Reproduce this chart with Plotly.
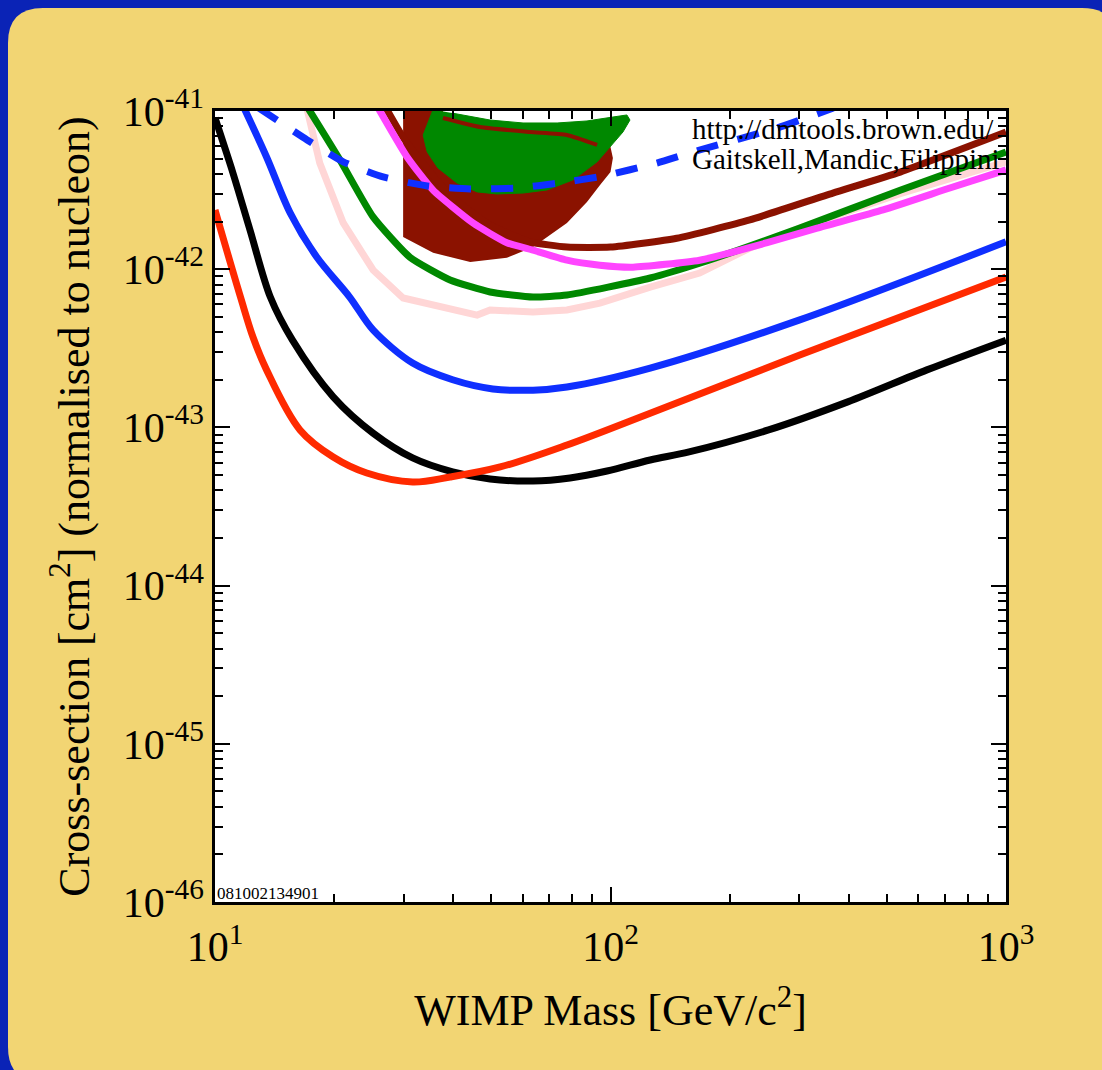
import plotly.graph_objects as go

# ---------------- data ----------------
mass_red = [10, 11.6, 12.5, 13.5, 16.4, 19.9, 24.2, 31.6, 39.3, 52.6, 77.6, 126, 301, 1000]
sig_red = [2.37e-42, 6.67e-43, 3.67e-43, 2.31e-43, 9.64e-44, 6.5e-44, 5.15e-44, 4.52e-44,
           4.86e-44, 5.62e-44, 7.74e-44, 1.23e-43, 2.87e-43, 8.93e-43]

mass_black = [10, 11.1, 12.26, 13.8, 15.7, 19.9, 25.1, 31.6, 39.9, 49.6, 63.7, 79, 98, 126,
              158, 251, 398, 631, 1000]
sig_black = [9.04e-42, 4.06e-42, 1.77e-42, 6.67e-43, 3.56e-43, 1.56e-43, 9.2e-44, 6.41e-44,
             5.23e-44, 4.72e-44, 4.58e-44, 4.79e-44, 5.3e-44, 6.22e-44, 7.0e-44, 9.64e-44,
             1.45e-43, 2.31e-43, 3.56e-43]

mass_blue = [11.75, 13.5, 15.5, 18.1, 21.9, 25.1, 31.6, 39.9, 50.4, 63.7, 77.6, 126, 301, 1000]
sig_blue = [1.09e-41, 5.12e-42, 2.26e-42, 1.19e-42, 6.67e-43, 4.13e-43, 2.55e-43, 2.0e-43,
            1.75e-43, 1.72e-43, 1.8e-43, 2.37e-43, 4.78e-43, 1.49e-42]

mass_pink = [17.0, 18.4, 21.1, 25.1, 29.9, 33, 39.9, 46, 49.6, 63.7, 77.6, 94, 126, 168, 225,
             301, 540, 1000]
sig_pink = [1.09e-41, 4.69e-42, 1.96e-42, 9.89e-43, 6.58e-43, 6.2e-43, 5.52e-43, 5.13e-43,
            5.52e-43, 5.37e-43, 5.52e-43, 6.1e-43, 7.7e-43, 9.46e-43, 1.36e-42, 1.82e-42,
            3.0e-42, 4.77e-42]

mass_green = [17.0, 20.7, 25.1, 31.1, 39.3, 49.6, 63.7, 77.6, 126, 168, 301, 540, 1000]
sig_green = [1.09e-41, 4.9e-42, 2.14e-42, 1.19e-42, 8.55e-43, 7.18e-43, 6.67e-43, 6.87e-43,
             8.8e-43, 1.09e-42, 1.82e-42, 3.16e-42, 5.51e-42]

mass_magenta = [25.6, 30.6, 35.6, 44.9, 54.7, 63.7, 77.6, 94, 114, 168, 249, 333, 489, 721, 1000]
sig_magenta = [1.09e-41, 5.12e-42, 3.16e-42, 1.96e-42, 1.47e-42, 1.32e-42, 1.14e-42, 1.06e-42,
               1.03e-42, 1.14e-42, 1.47e-42, 1.82e-42, 2.37e-42, 3.26e-42, 4.24e-42]

mass_darkred = [26.8, 30.2, 39.3, 49.6, 62.6, 77.6, 100, 147, 225, 365, 540, 1000]
sig_darkred = [1.09e-41, 6.56e-42, 2.94e-42, 1.9e-42, 1.49e-42, 1.38e-42, 1.38e-42, 1.57e-42,
               2.05e-42, 3.03e-42, 4.11e-42, 7.36e-42]

mass_dashed = [12.9, 17.1, 21.1, 26.6, 34.4, 44.2, 58, 74.5, 95.7, 131, 168, 264, 366]
sig_dashed = [1.045e-41, 6.56e-42, 4.77e-42, 3.83e-42, 3.36e-42, 3.21e-42, 3.26e-42, 3.51e-42,
              3.88e-42, 4.69e-42, 5.67e-42, 7.81e-42, 1.045e-41]

# dark-red allowed region (closed contour)
region_mass = [29.9, 37.7, 37.7, 46.8, 62.6, 77.6, 92.5, 100, 101.4, 100, 94.1, 87.2, 77.6,
               63.7, 54.7, 44.2, 35.6, 29.9]
region_sig = [1.05e-41, 1.05e-41, 9.03e-42, 7.92e-42, 7.36e-42, 7.05e-42, 6.1e-42, 5.92e-42,
              5.05e-42, 4.11e-42, 3.4e-42, 2.66e-42, 1.96e-42, 1.38e-42, 1.18e-42, 1.11e-42,
              1.27e-42, 1.6e-42]

# green allowed region (closed contour)
blob_mass = [35.6, 33.6, 34.4, 36.6, 40.9, 46, 51.6, 60.1, 69.1, 80.4, 92.5, 101.4, 107.5, 112,
             110, 101.4, 87.2, 73.3, 60.1, 49.6, 39.7]
blob_sig = [1.02e-41, 7.05e-42, 5.51e-42, 4.37e-42, 3.51e-42, 3.08e-42, 2.99e-42, 3.03e-42,
            3.17e-42, 3.67e-42, 4.77e-42, 6.28e-42, 7.36e-42, 8.77e-42, 9.44e-42, 9.16e-42,
            8.65e-42, 8.4e-42, 8.4e-42, 8.77e-42, 9.71e-42]

# upper edge of dark-red contour visible over the green region
edge_mass = [37.7, 46.8, 62.6, 77.6, 92.5]
edge_sig = [9.03e-42, 7.92e-42, 7.36e-42, 7.05e-42, 6.1e-42]

x_tickvals = [10, 100, 1000]
x_ticktext = ["10<sup>1</sup>", "10<sup>2</sup>", "10<sup>3</sup>"]
y_tickvals = [1e-46, 1e-45, 1e-44, 1e-43, 1e-42, 1e-41]
y_ticktext = ["10<sup>-46</sup>", "10<sup>-45</sup>", "10<sup>-44</sup>",
              "10<sup>-43</sup>", "10<sup>-42</sup>", "10<sup>-41</sup>"]

credit_lines = ["http://dmtools.brown.edu/", "Gaitskell,Mandic,Filippini"]
credit_mass = [160.7, 160.7]
credit_sig = [7.36e-42, 4.77e-42]
stamp = "081002134901"

# ---------------- styling ----------------
SERIF = "Liberation Serif, Times New Roman, serif"
W, H = 1102, 1070
L, T, PW, PH = 215, 111, 791, 791
R = W - L - PW
B = H - T - PH

C_RED = "#ff2a00"
C_BLACK = "#000000"
C_BLUE = "#0f2fff"
C_PINK = "#ffd6d6"
C_GREEN = "#008800"
C_MAGENTA = "#ff45ff"
C_DARKRED = "#8b1200"

fig = go.Figure()

def line(x, y, color, width=7, dash=None, smooth=0.5):
    ln = dict(color=color, width=width, dash=dash)
    if smooth:
        ln.update(shape="spline", smoothing=smooth)
    fig.add_trace(go.Scatter(x=x, y=y, mode="lines", hoverinfo="skip", line=ln))

line(mass_pink, sig_pink, C_PINK, smooth=0)
line(mass_green, sig_green, C_GREEN)
fig.add_trace(go.Scatter(x=region_mass, y=region_sig, mode="lines", fill="toself",
                         fillcolor=C_DARKRED, line=dict(width=0, color=C_DARKRED),
                         hoverinfo="skip"))
fig.add_trace(go.Scatter(x=blob_mass, y=blob_sig, mode="lines", fill="toself",
                         fillcolor=C_GREEN, line=dict(width=1, color=C_GREEN),
                         hoverinfo="skip"))
line(edge_mass, edge_sig, C_DARKRED, width=4)
line(mass_darkred, sig_darkred, C_DARKRED)
line(mass_magenta, sig_magenta, C_MAGENTA)
line(mass_blue, sig_blue, C_BLUE, smooth=0.9)
line(mass_black, sig_black, C_BLACK, smooth=0.9)
line(mass_red, sig_red, C_RED, smooth=1.0)
line(mass_dashed, sig_dashed, C_BLUE, width=7, dash="22px,20px")

fig.add_trace(go.Scatter(x=credit_mass, y=credit_sig, mode="text", text=credit_lines,
                         textposition="middle right", cliponaxis=True, hoverinfo="skip",
                         textfont=dict(family=SERIF, size=29, color="black")))

# rounded yellow panel on blue background (paper coordinates)
def px(xp):
    return (xp - L) / PW

def py(yp):
    return (T + PH - yp) / PH

pl, pr, pt, pb, rr = px(8), px(1117), py(8), py(1082), 35 / PW
path = (f"M {pl+rr},{pt} L {pr-rr},{pt} Q {pr},{pt} {pr},{pt-rr} L {pr},{pb+rr} "
        f"Q {pr},{pb} {pr-rr},{pb} L {pl+rr},{pb} Q {pl},{pb} {pl},{pb+rr} "
        f"L {pl},{pt-rr} Q {pl},{pt} {pl+rr},{pt} Z")
fig.add_shape(type="path", path=path, xref="paper", yref="paper", layer="below",
              fillcolor="#f2d573", line=dict(width=0))
fig.add_shape(type="rect", x0=0, x1=1, y0=0, y1=1, xref="paper", yref="paper",
              layer="below", fillcolor="white", line=dict(width=0))

fig.add_annotation(text=stamp, x=0, y=0, xref="paper", yref="paper", xanchor="left",
                   yanchor="bottom", showarrow=False, xshift=0, yshift=-3,
                   font=dict(family=SERIF, size=17, color="black"))

axis_common = dict(
    type="log", showline=True, linecolor="black", linewidth=2.5, mirror="ticks",
    ticks="inside", ticklen=15, tickwidth=2, tickcolor="black", showgrid=False,
    zeroline=False, tickfont=dict(family=SERIF, size=42, color="black"),
    minor=dict(ticks="inside", ticklen=8, tickwidth=1.5, tickcolor="black", showgrid=False),
)

x_minor = [m * 10 ** e for e in range(1, 3) for m in range(2, 10)]
y_minor = [m * 10.0 ** e for e in range(-46, -41) for m in range(2, 10)]

fig.update_xaxes(**axis_common, range=[1, 3], tickmode="array", tickvals=x_tickvals,
                 ticktext=x_ticktext, ticklabelstandoff=6,
                 title=dict(text="WIMP Mass [GeV/c<sup>2</sup>]", standoff=26,
                            font=dict(family=SERIF, size=44, color="black")))
fig.update_xaxes(minor_tickmode="array", minor_tickvals=x_minor)
fig.update_yaxes(**axis_common, range=[-46, -41], tickmode="array", tickvals=y_tickvals,
                 ticktext=y_ticktext,
                 title=dict(text="Cross-section [cm<sup>2</sup>] (normalised to nucleon)",
                            standoff=20, font=dict(family=SERIF, size=44, color="black")))
fig.update_yaxes(minor_tickmode="array", minor_tickvals=y_minor)

fig.update_layout(
    width=W, height=H, autosize=False,
    margin=dict(l=L, r=R, t=T, b=B, pad=0),
    paper_bgcolor="#0a23b6", plot_bgcolor="white",
    showlegend=False, font=dict(family=SERIF, color="black"),
)

fig.write_html("out.html")
